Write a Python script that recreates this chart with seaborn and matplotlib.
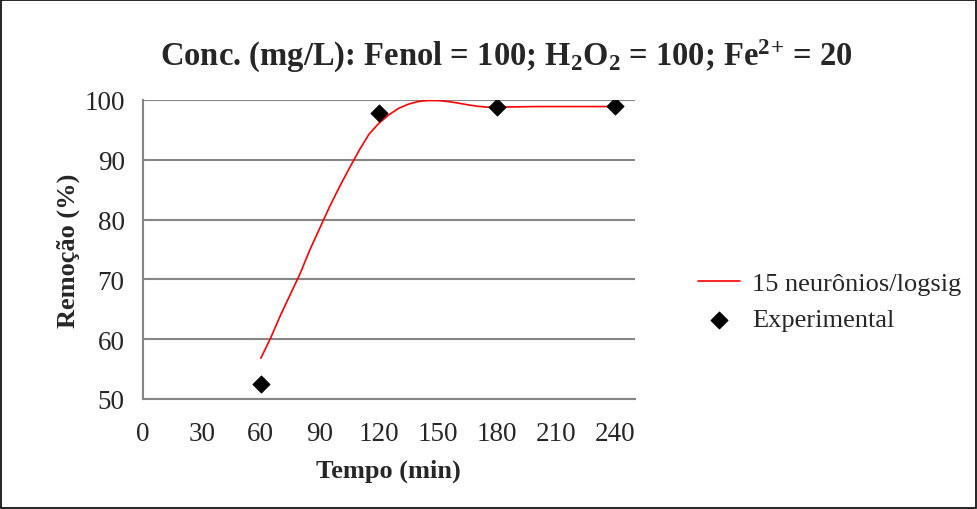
import numpy as np
import pandas as pd
import matplotlib
matplotlib.use("Agg")
import matplotlib.pyplot as plt
import seaborn as sns

# data
tempo_exp = [60, 120, 180, 240]
remocao_exp = [52.4, 97.8, 98.8, 98.95]

# network curve (15 neurons / logsig), read every 5 min
tempo_rede = [60, 65, 70, 75, 80, 85, 90, 95, 100, 105, 110, 115, 120, 125,
              130, 135, 140, 145, 150, 155, 160, 165, 170, 175, 180, 190,
              200, 210, 220, 230, 240]
remocao_rede = [56.8, 60.2, 64.0, 67.5, 71.0, 75.0, 78.6, 82.2, 85.5, 88.6,
                91.6, 94.3, 96.1, 97.5, 98.6, 99.3, 99.75, 99.9, 99.9, 99.75,
                99.5, 99.2, 98.95, 98.8, 98.8, 98.85, 98.9, 98.9, 98.9, 98.9,
                98.9]

x_ticks = [0, 30, 60, 90, 120, 150, 180, 210, 240]
y_ticks = [50, 60, 70, 80, 90, 100]

df_rede = pd.DataFrame({"tempo": tempo_rede, "remocao": remocao_rede})
df_exp = pd.DataFrame({"tempo": tempo_exp, "remocao": remocao_exp})

sns.set_style("white")
plt.rcParams["font.family"] = ["Liberation Serif", "DejaVu Serif"]
plt.rcParams["mathtext.fontset"] = "custom"
plt.rcParams["mathtext.rm"] = "Liberation Serif:bold"
plt.rcParams["mathtext.default"] = "regular"

fig = plt.figure(figsize=(9.78, 5.10), dpi=100)
ax = fig.add_axes([0.146, 0.216, 0.503, 0.586])

grid_col = "#868686"

sns.lineplot(data=df_rede, x="tempo", y="remocao", ax=ax, color="red",
             linewidth=1.2, label="15 neurônios/logsig")
sns.scatterplot(data=df_exp, x="tempo", y="remocao", ax=ax, marker="D",
                color="black", s=75, edgecolor="black", label="Experimental",
                zorder=3)

ax.set_xlim(0, 250)
ax.set_ylim(50, 100)
ax.set_xticks(x_ticks)
ax.set_yticks(y_ticks)
ax.yaxis.grid(True, color=grid_col, linewidth=1.5)
ax.set_axisbelow(True)

for s in ["top", "right"]:
    ax.spines[s].set_visible(False)
for s in ["left", "bottom"]:
    ax.spines[s].set_color(grid_col)
    ax.spines[s].set_linewidth(1.5)

ax.tick_params(axis="both", direction="out", length=4, width=1.2,
               color=grid_col, labelsize=19.5)
ax.tick_params(axis="x", pad=12)
ax.tick_params(axis="y", pad=9)

ax.set_xlabel("Tempo (min)", fontsize=19, fontweight="bold", labelpad=9)
ax.set_ylabel("Remoção (%)", fontsize=19, fontweight="bold", labelpad=3)

fig.text(0.518, 0.89, r"Conc. (mg/L): Fenol = 100; H$_2$O$_2$ = 100; Fe$^{2}$$^{+}$ = 20",
         ha="center", va="center", fontsize=23.5, fontweight="bold")

leg = ax.legend(loc="center left", bbox_to_anchor=(1.08, 0.326), frameon=False,
                fontsize=19, handlelength=1.6, handletextpad=0.45, labelspacing=0.5)

# border around the whole chart
fig.patches.append(plt.Rectangle((0.001, 0.002), 0.997, 0.996, transform=fig.transFigure,
                                 fill=False, edgecolor="black", linewidth=1.2))

fig.savefig("out.png", dpi=100)
